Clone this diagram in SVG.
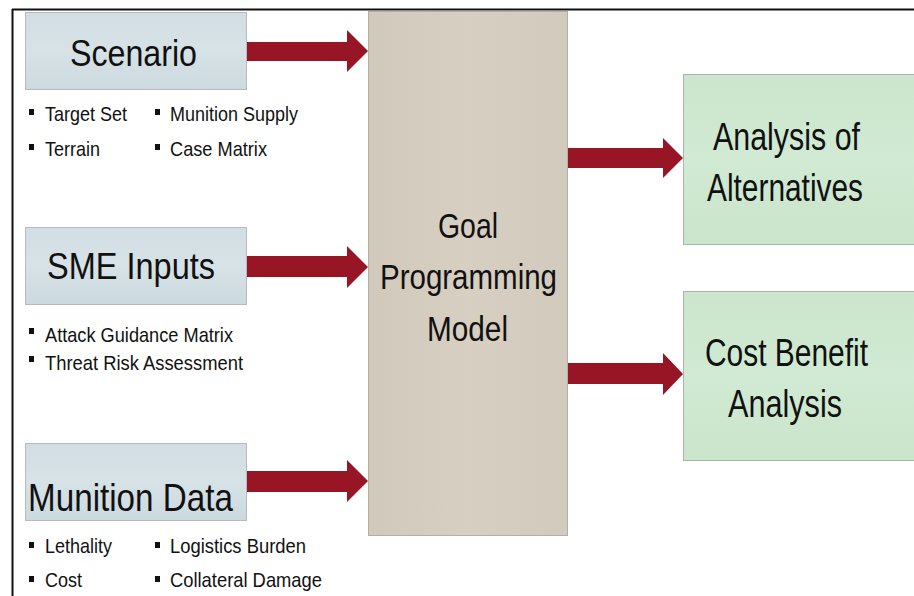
<svg xmlns="http://www.w3.org/2000/svg" width="914" height="596" viewBox="0 0 914 596">
<defs>
<linearGradient id="gBlue" x1="0" y1="0" x2="0" y2="1">
<stop offset="0" stop-color="#d2dee3"/><stop offset="0.5" stop-color="#d6e2e6"/><stop offset="1" stop-color="#ccd9de"/>
</linearGradient>
<linearGradient id="gTan" x1="0" y1="0" x2="1" y2="0">
<stop offset="0" stop-color="#d2c9bd"/><stop offset="0.5" stop-color="#d8cfc3"/><stop offset="1" stop-color="#d3cabe"/>
</linearGradient>
<linearGradient id="gGreen" x1="0" y1="0" x2="0" y2="1">
<stop offset="0" stop-color="#cbe6cd"/><stop offset="0.5" stop-color="#d1ead3"/><stop offset="1" stop-color="#cae5cc"/>
</linearGradient>
</defs>
<style>
.blue{fill:url(#gBlue);stroke:#b3bbbe;stroke-width:1}
.tan{fill:url(#gTan);stroke:#b5aea4;stroke-width:1}
.green{fill:url(#gGreen);stroke:#a9b4aa;stroke-width:1}
.big{font-family:"Liberation Sans Narrow","Liberation Sans",Arial,sans-serif;font-size:37px;fill:#111}
.sm{font-family:"Liberation Sans Narrow","Liberation Sans",Arial,sans-serif;font-size:21px;fill:#111}
.blt{fill:#111}
.arrow{fill:#981526}
</style>
<rect width="914" height="596" fill="#ffffff"/>
<line x1="12" y1="9.5" x2="914" y2="9.5" stroke="#111" stroke-width="2"/>
<line x1="12.5" y1="9" x2="12.5" y2="596" stroke="#111" stroke-width="2"/>

<g id="connectors">
<polygon class="arrow" points="246,42 347,42 347,30 368,51 347,72 347,61 246,61"/>
<polygon class="arrow" points="246,256 347,256 347,246 368,267 347,288 347,277 246,277"/>
<polygon class="arrow" points="246,471 347,471 347,460 368,481 347,502 347,492 246,492"/>
<polygon class="arrow" points="567,148 663,148 663,138 683,158 663,178 663,168 567,168"/>
<polygon class="arrow" points="567,363 663,363 663,353 683,374 663,395 663,384 567,384"/>
</g>

<g id="scenario">
<rect class="blue" x="25.5" y="12.5" width="221" height="77"/>
<text class="big" x="70" y="66" textLength="127" lengthAdjust="spacingAndGlyphs">Scenario</text>
<rect class="blt" x="29" y="109" width="5" height="6"/>
<text class="sm" x="45" y="121" textLength="82" lengthAdjust="spacingAndGlyphs">Target Set</text>
<rect class="blt" x="29" y="144" width="5" height="6"/>
<text class="sm" x="45" y="156" textLength="55" lengthAdjust="spacingAndGlyphs">Terrain</text>
<rect class="blt" x="155" y="109" width="5" height="6"/>
<text class="sm" x="170" y="121" textLength="128" lengthAdjust="spacingAndGlyphs">Munition Supply</text>
<rect class="blt" x="155" y="144" width="5" height="6"/>
<text class="sm" x="170" y="156" textLength="97" lengthAdjust="spacingAndGlyphs">Case Matrix</text>
</g>

<g id="sme">
<rect class="blue" x="25.5" y="227.5" width="221" height="77"/>
<text class="big" x="47" y="279" textLength="168" lengthAdjust="spacingAndGlyphs">SME Inputs</text>
<rect class="blt" x="29" y="328" width="5" height="6"/>
<text class="sm" x="45" y="342" textLength="188" lengthAdjust="spacingAndGlyphs">Attack Guidance Matrix</text>
<rect class="blt" x="29" y="356" width="5" height="6"/>
<text class="sm" x="45" y="370" textLength="198" lengthAdjust="spacingAndGlyphs">Threat Risk Assessment</text>
</g>

<g id="munition">
<rect class="blue" x="25.5" y="443.5" width="221" height="77"/>
<text class="big" x="28" y="511" textLength="205" lengthAdjust="spacingAndGlyphs" style="font-size:39px">Munition Data</text>
<rect class="blt" x="29" y="542" width="5" height="6"/>
<text class="sm" x="45" y="553" textLength="67" lengthAdjust="spacingAndGlyphs">Lethality</text>
<rect class="blt" x="29" y="576" width="5" height="6"/>
<text class="sm" x="45" y="587" textLength="37" lengthAdjust="spacingAndGlyphs">Cost</text>
<rect class="blt" x="155" y="542" width="5" height="6"/>
<text class="sm" x="170" y="553" textLength="136" lengthAdjust="spacingAndGlyphs">Logistics Burden</text>
<rect class="blt" x="155" y="576" width="5" height="6"/>
<text class="sm" x="170" y="587" textLength="152" lengthAdjust="spacingAndGlyphs">Collateral Damage</text>
</g>

<g id="goal">
<rect class="tan" x="368.5" y="11.5" width="199" height="524"/>
<text class="big" x="438" y="238" textLength="60" lengthAdjust="spacingAndGlyphs" style="font-size:35px">Goal</text>
<text class="big" x="380" y="289" textLength="177" lengthAdjust="spacingAndGlyphs" style="font-size:35px">Programming</text>
<text class="big" x="427" y="341" textLength="81" lengthAdjust="spacingAndGlyphs" style="font-size:35px">Model</text>
</g>

<g id="aoa">
<rect class="green" x="683.5" y="74.5" width="240" height="170"/>
<text class="big" x="713" y="150" textLength="147" lengthAdjust="spacingAndGlyphs" style="font-size:38px">Analysis of</text>
<text class="big" x="707" y="201" textLength="156" lengthAdjust="spacingAndGlyphs" style="font-size:38px">Alternatives</text>
</g>

<g id="cba">
<rect class="green" x="683.5" y="291.5" width="240" height="169"/>
<text class="big" x="705" y="366" textLength="163" lengthAdjust="spacingAndGlyphs" style="font-size:38px">Cost Benefit</text>
<text class="big" x="728" y="417" textLength="114" lengthAdjust="spacingAndGlyphs" style="font-size:38px">Analysis</text>
</g>
</svg>
